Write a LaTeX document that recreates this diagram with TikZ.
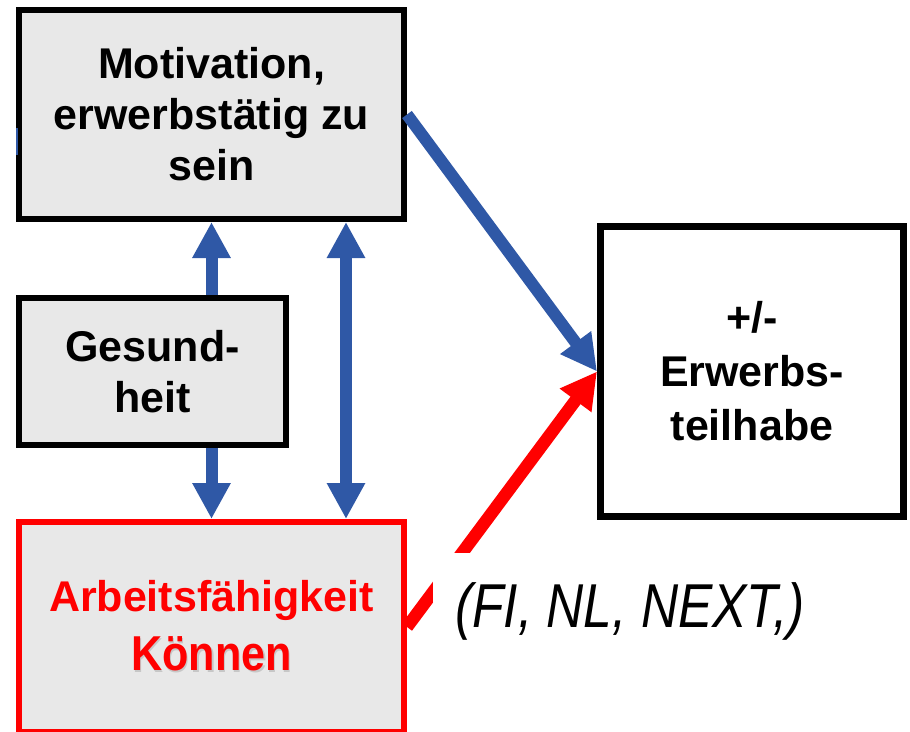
\documentclass[tikz,border=0pt]{standalone}
\usepackage{fontspec}
\setmainfont{Liberation Sans}
\usepackage{graphicx}
\usetikzlibrary{arrows.meta,positioning}
\definecolor{boxgray}{RGB}{232,232,232}
\definecolor{pfeilblau}{RGB}{47,88,166}
\definecolor{knallrot}{RGB}{255,0,0}
\newcommand{\schattiert}[1]{\makebox[0pt][l]{\hspace{1.8pt}\raisebox{-1.8pt}{\textcolor{black!22}{#1}}}#1}
\tikzset{box/.style={
            draw,
            fill=boxgray,
            line width=6pt,
            inner sep=0pt,
            align=center,
            font=\bfseries\fontsize{43}{51}\selectfont
        },
        redbox/.style={
            box,
            draw=knallrot,
            text=knallrot
        },
        resultbox/.style={
            box,
            fill=white,
            line width=7pt,
            font=\bfseries\fontsize{43}{54}\selectfont
        },
        quelle/.style={
            fill=white,
            inner xsep=22pt,
            inner ysep=29pt,
            font=\itshape\fontsize{62}{70}\selectfont
        },
        blauarrow/.style={
            draw=pfeilblau,
            line width=12pt,
            -{Triangle[width=36pt,length=36pt]}
        },
        doppelarrow/.style={
            blauarrow,
            {Triangle[width=36pt,length=36pt]}-{Triangle[width=36pt,length=36pt]}
        },
        rotarrow/.style={
            draw=knallrot,
            line width=12.5pt,
            -{Triangle[width=37pt,length=36pt]}
        }
    }
\begin{document}
\begin{tikzpicture}[x=1pt,y=-1pt]
        \useasboundingbox (0,0) rectangle (910,731);
        \node[box,minimum width=385pt,minimum height=209pt] at (211.5,114.5) (motivation) {Motivation,\\erwerbstätig zu\\sein};
        \node[box,minimum width=267pt,minimum height=147pt] at (152.5,371.5) (gesundheit) {Gesund-\\heit};
        \node[redbox,minimum width=385pt,minimum height=210pt] at (211.5,627) (arbeit) {Arbeitsfähigkeit\\[8pt]{\fontsize{49}{55}\selectfont\scalebox{0.88}[1]{\schattiert{Können}}}};
        \node[resultbox,minimum width=303pt,minimum height=290pt] at (752,371.5) (teilhabe) {+/-\\Erwerbs-\\teilhabe};
        % stray blue mark on the left border
        \fill[pfeilblau] (16,128) rectangle (17.7,155);
        \draw[blauarrow] (gesundheit.north -| motivation.south) -- (motivation.south);
        \draw[blauarrow] (gesundheit.south -| arbeit.north) -- (arbeit.north);
        \draw[doppelarrow] ([xshift=134.5pt]arbeit.north) -- ([xshift=134.5pt]motivation.south);
        \draw[blauarrow] (motivation.east) -- (teilhabe.west);
        \draw[rotarrow] (arbeit.east) -- (teilhabe.west);
        \node[quelle,anchor=base west] at (433,627) (quellen) {\scalebox{0.83}[1]{(FI, NL, NEXT,)}};
    \end{tikzpicture}
\end{document}
